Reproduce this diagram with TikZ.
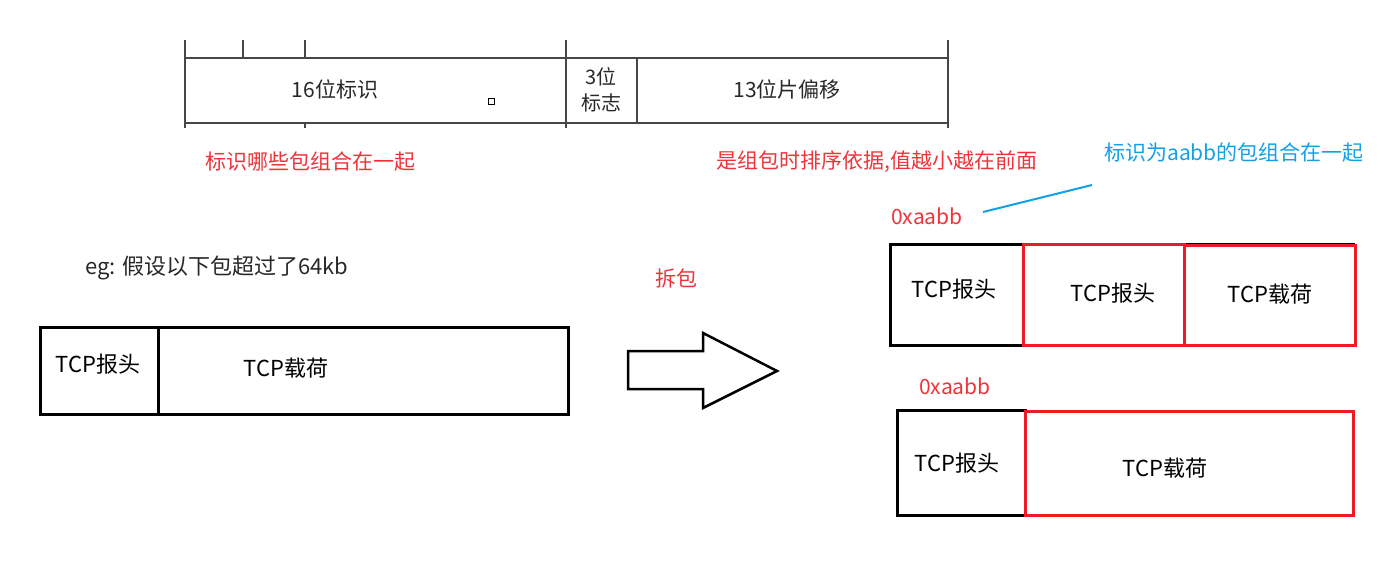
\documentclass[tikz,border=0pt]{standalone}
\usepackage{fontspec}
\setmainfont{Noto Sans CJK SC}
\usetikzlibrary{calc}
\definecolor{tred}{RGB}{238,52,58}
\definecolor{bred}{RGB}{237,28,36}
\definecolor{tblue}{RGB}{20,160,228}
\definecolor{tgray}{RGB}{40,40,40}
\definecolor{lgray}{RGB}{70,70,70}
\tikzset{
  lbl/.style={inner sep=0pt, font=\fontsize{21}{24}\selectfont, text=black},
  tcplbl/.style={lbl, font=\fontsize{22}{24}\selectfont},
  redlbl/.style={lbl, text=tred},
  bluelbl/.style={lbl, text=tblue},
  tbllbl/.style={inner sep=0pt, font=\fontsize{21}{22}\selectfont, text=tgray, align=center},
  tblline/.style={lgray, line width=1.4pt},
  blackbox/.style={draw=black, line width=3pt},
  redbox/.style={draw=bred, line width=3pt},
}
\begin{document}
\begin{tikzpicture}[x=1pt,y=-1pt]
\useasboundingbox (0,0) rectangle (1382,567);
% ---- top table ----
\draw[tblline] (185,58) -- (948,58);
\draw[tblline] (185,123) -- (948,123);
\draw[tblline] (185,40) -- (185,128);
\draw[tblline] (566,40) -- (566,128);
\draw[tblline] (637,58) -- (637,123);
\draw[tblline] (948,40) -- (948,128);
\draw[tblline] (243,40) -- (243,58);
\draw[tblline] (305,40) -- (305,58);
\draw[tblline] (305,123) -- (305,128);
\node[tbllbl] (f16) at (335,89) {16位标识};
\node[tbllbl, font=\fontsize{20}{26}\selectfont] (f3) at (601,90) {3位\\标志};
\node[tbllbl] (f13) at (787,89) {13位片偏移};
\draw[black, line width=0.8pt] (488,98) rectangle (494,104);
% ---- annotations ----
\node[redlbl] (n1) at (310,162) {标识哪些包组合在一起};
\node[redlbl] (n2) at (877,162) {是组包时排序依据,值越小越在前面};
\node[bluelbl] (n3) at (1234,153) {标识为aabb的包组合在一起};
\node[redlbl] (hx1) at (927,216) {0xaabb};
\node[redlbl] (hx2) at (955,386) {0xaabb};
\coordinate (l1) at (983,212);
\coordinate (l2) at (1092,185);
\draw[tblue, line width=2pt] (l1) -- (l2);
\node[lbl, font=\fontsize{22}{24}\selectfont, text=tgray, anchor=west] (eg) at (85,268) {eg: 假设以下包超过了64kb};
\node[redlbl] (cb) at (676,278) {拆包};
% ---- left packet ----
\draw[blackbox] (40,327) rectangle (568,414);
\draw[black, line width=3pt] (158,327) -- (158,414);
\node[tcplbl] (lh) at (98,364) {TCP报头};
\node[tcplbl] (lp) at (286,368) {TCP载荷};
% ---- hollow arrow ----
\draw[black, line width=2.5pt, line join=miter] (628,351) -- (703,351) -- (703,333) -- (777,371) -- (703,408) -- (703,389) -- (628,389) -- cycle;
% ---- right upper packet ----
\draw[blackbox] (890,244) rectangle (1023,345);
\draw[black, line width=3pt] (1184,244) -- (1355,244);
\draw[redbox] (1023,244) rectangle (1184,345);
\draw[redbox] (1184,245) rectangle (1355,345);
\node[tcplbl] (r1h) at (954,289) {TCP报头};
\node[tcplbl] (r1h2) at (1113,293) {TCP报头};
\node[tcplbl] (r1p) at (1270,294) {TCP载荷};
% ---- right lower packet ----
\draw[blackbox] (897,410) rectangle (1025,515);
\draw[redbox] (1025,411) rectangle (1353,515);
\node[tcplbl] (r2h) at (957,463) {TCP报头};
\node[tcplbl] (r2p) at (1165,468) {TCP载荷};
\end{tikzpicture}
\end{document}
